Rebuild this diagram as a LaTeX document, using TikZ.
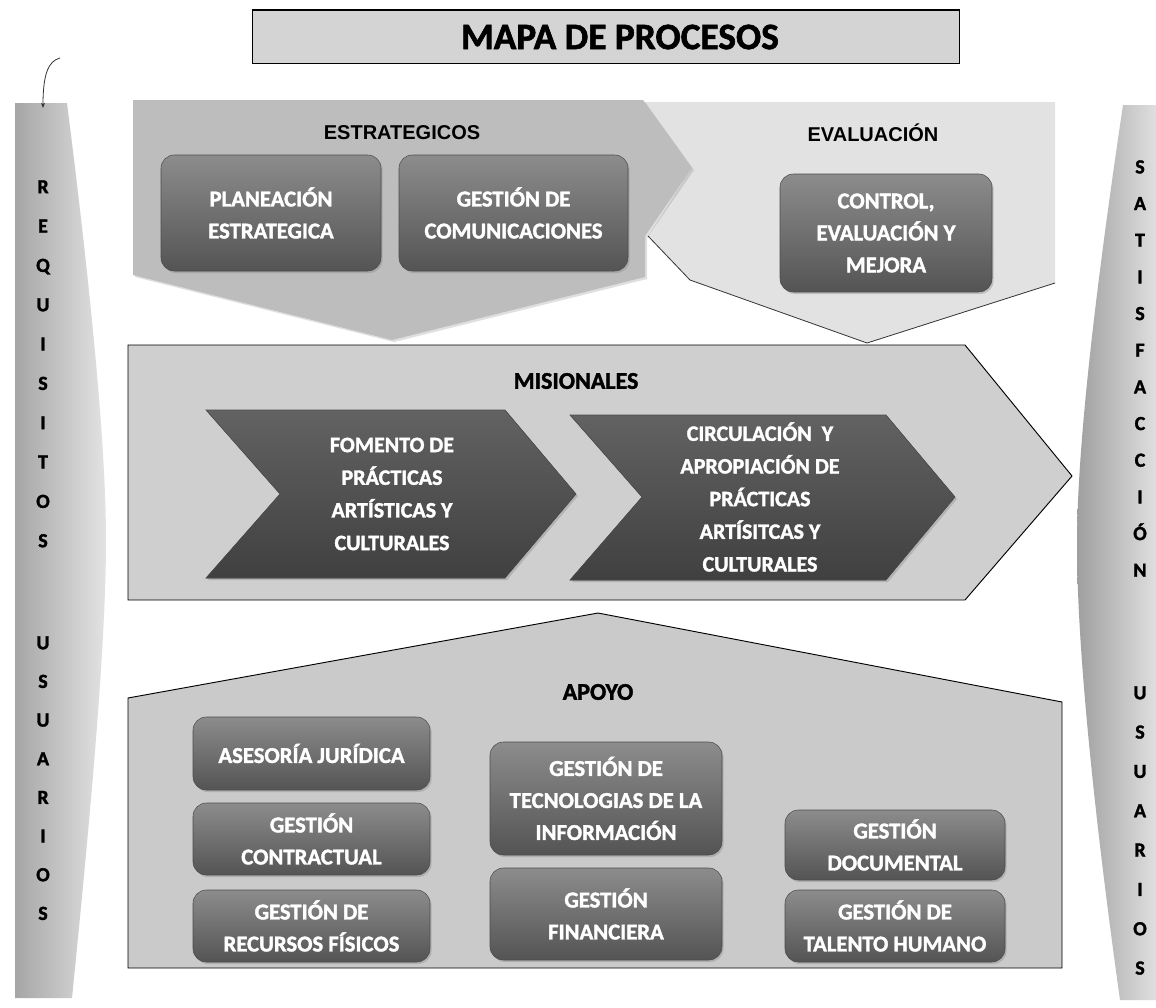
\documentclass[tikz,border=0pt]{standalone}
\usepackage{fontspec}
\setmainfont{Carlito}
\newfontfamily\heavyfont[BoldFeatures={FakeBold=1.6}]{Carlito}
\newfontfamily\arialfont{Liberation Sans}
\usetikzlibrary{shadows,arrows.meta}
\definecolor{estrfill}{HTML}{BDBDBD}
\definecolor{evalfill}{HTML}{E2E2E2}
\definecolor{misfill}{HTML}{CFCFCF}
\definecolor{apofill}{HTML}{CACACA}
\definecolor{chevtop}{HTML}{626262}
\definecolor{chevbot}{HTML}{404040}
\definecolor{boxtop}{HTML}{8C8C8C}
\definecolor{boxbot}{HTML}{545454}
\definecolor{titlefill}{HTML}{D4D4D4}
\tikzset{
  pbox/.style={rounded corners=10pt, top color=boxtop, bottom color=boxbot,
    draw=black!70, line width=0.4pt, text=white, align=center, inner sep=0pt,
    font=\heavyfont\bfseries\fontsize{17}{24}\selectfont,
    drop shadow={opacity=0.35, shadow xshift=1.2pt, shadow yshift=-1.5pt}},
  chevshape/.style={top color=chevtop, bottom color=chevbot, draw=black!70, line width=0.4pt,
    drop shadow={opacity=0.35, shadow xshift=1.5pt, shadow yshift=-1.5pt}},
  chevtext/.style={text=white, align=center, font=\heavyfont\bfseries\fontsize{16.5}{24.5}\selectfont},
  grouplabel/.style={font=\arialfont\bfseries\fontsize{15}{17}\selectfont, text=black},
  grouplabelb/.style={font=\heavyfont\bfseries\fontsize{18}{20}\selectfont, text=black},
  colletters/.style={font=\heavyfont\bfseries\fontsize{15}{29.5}\selectfont, text=black, align=center, anchor=north, inner sep=0pt},
  arealine/.style={draw=black, line width=0.7pt},
  penmark/.style={draw=black!80, line width=0.6pt, -{Stealth[length=4pt,width=3pt]}}
}
\begin{document}
\begin{tikzpicture}[x=0.75pt,y=-0.75pt]
\useasboundingbox (0,0) rectangle (1156,1007);
\fill[white] (0,0) rectangle (1156,1007);

% title
\node[draw=black, line width=1pt, fill=titlefill, minimum width=530pt, minimum height=40pt,
      inner sep=0pt] (titlebox) at (606,36.5) {};
\node[font=\heavyfont\bfseries\fontsize{28}{30}\selectfont, inner sep=0pt] (title) at (620,37) {MAPA DE PROCESOS};

% side columns
\shade[left color=gray!70, right color=gray!22]
  (15,103) -- (67,103) .. controls (92,300) and (106,450) .. (106,540)
  .. controls (106,640) and (92,800) .. (72,998) -- (15,998) -- cycle;
\shade[left color=gray!75, right color=gray!25]
  (1123,105) -- (1156,105) -- (1156,1000) -- (1120,1000)
  .. controls (1092,800) and (1077,640) .. (1077,545)
  .. controls (1077,450) and (1094,300) .. (1123,105) -- cycle;

% pen mark on the scan
\coordinate (penA) at (60,58);
\coordinate (penB) at (43,108);
\draw[penmark] (penA) .. controls (48,61) and (43,75) .. (penB);

\node[colletters] (req) at (43,180) {R\\E\\Q\\U\\I\\S\\I\\T\\O\\S};
\node[colletters, font=\heavyfont\bfseries\fontsize{15}{29}\selectfont] (usu1) at (43,636) {U\\S\\U\\A\\R\\I\\O\\S};
\node[colletters, font=\heavyfont\bfseries\fontsize{15}{27.5}\selectfont] (sat) at (1140,160) {S\\A\\T\\I\\S\\F\\A\\C\\C\\I\\Ó\\N};
\node[colletters, font=\heavyfont\bfseries\fontsize{15}{29.5}\selectfont] (usu2) at (1140,686) {U\\S\\U\\A\\R\\I\\O\\S};

% evaluacion area
\fill[evalfill] (643,102) -- (1055,102) -- (1055,283) -- (867,343) -- (690,280)
  -- (648,236) -- (692,168) -- cycle;
\draw[black!80, line width=0.6pt] (648,236) -- (690,280) -- (867,343) -- (1055,283);
% estrategicos area
\fill[estrfill, drop shadow={opacity=0.25, shadow xshift=1.5pt, shadow yshift=-1.5pt}]
  (133,100) -- (643,100) -- (692,168) -- (645,236) -- (645,277) -- (392,340)
  -- (133,275) -- cycle;

\node[grouplabel] (estr) at (402,133) {ESTRATEGICOS};
\node[grouplabel] (eval) at (873,133) {EVALUACIÓN};

\node[pbox, minimum width=165pt, minimum height=87pt] (plan) at (271,213) {PLANEACIÓN\\ESTRATEGICA};
\node[pbox, minimum width=171.75pt, minimum height=87pt] (com) at (513.5,213) {GESTIÓN DE\\COMUNICACIONES};
\node[pbox, minimum width=159pt, minimum height=88.5pt] (ctrl) at (886,233) {CONTROL,\\EVALUACIÓN Y\\MEJORA};

% misionales area
\filldraw[fill=misfill, arealine] (128,345) -- (965,345) -- (1072,476) -- (965,600) -- (128,600) -- cycle;
\node[grouplabelb] (mis) at (576,381) {MISIONALES};
\fill[chevshape] (206,410) -- (505,410) -- (576,494) -- (505,578) -- (206,578) -- (280,494) -- cycle;
\fill[chevshape] (570,415) -- (886,415) -- (955,497) -- (886,580) -- (570,580) -- (642,497) -- cycle;
\node[chevtext] (fom) at (392,494) {FOMENTO DE\\PRÁCTICAS\\ARTÍSTICAS Y\\CULTURALES};
\node[chevtext] (circ) at (760,497) {CIRCULACIÓN \ Y\\APROPIACIÓN DE\\PRÁCTICAS\\ARTÍSITCAS Y\\CULTURALES};

% apoyo area
\filldraw[fill=apofill, arealine] (128,698) -- (598,613) -- (1062,702) -- (1062,968) -- (128,968) -- cycle;
\node[grouplabelb] (apoyo) at (598,692) {APOYO};

\node[pbox, minimum width=177.75pt, minimum height=54.75pt] (ases) at (311.5,753.5) {ASESORÍA JURÍDICA};
\node[pbox, minimum width=177.75pt, minimum height=54pt] (contr) at (311.5,839) {GESTIÓN\\CONTRACTUAL};
\node[pbox, minimum width=177.75pt, minimum height=54pt] (recur) at (311.5,926) {GESTIÓN DE\\RECURSOS FÍSICOS};
\node[pbox, minimum width=174pt, minimum height=84.75pt] (tec) at (606,798.5) {GESTIÓN DE\\TECNOLOGIAS DE LA\\INFORMACIÓN};
\node[pbox, minimum width=174pt, minimum height=69pt] (fin) at (606,914) {GESTIÓN\\FINANCIERA};
\node[pbox, minimum width=165pt, minimum height=52.5pt] (doc) at (895,845) {GESTIÓN\\DOCUMENTAL};
\node[pbox, minimum width=165pt, minimum height=54pt] (tal) at (895,926) {GESTIÓN DE\\TALENTO HUMANO};
\end{tikzpicture}
\end{document}
